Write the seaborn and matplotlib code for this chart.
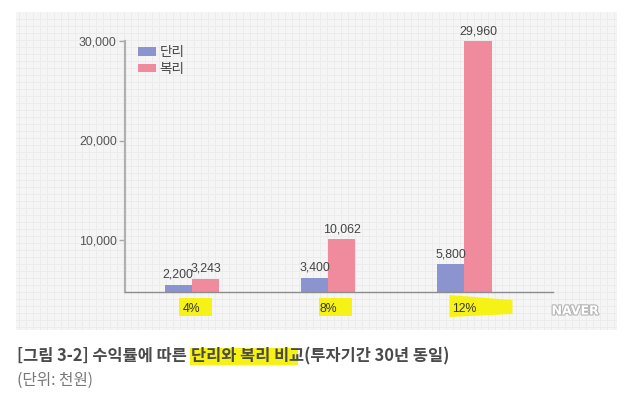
import numpy as np
import pandas as pd
import matplotlib
matplotlib.use("Agg")
import matplotlib.pyplot as plt
import seaborn as sns
from matplotlib.transforms import IdentityTransform
from matplotlib.patches import Rectangle, Polygon
import matplotlib.patheffects as pe

# ---- data ----
rates = ['4%', '8%', '12%']
types = ['단리', '복리']
simple_vals = [2200, 3400, 5800]
compound_vals = [3243, 10062, 29960]
yticks = [10000, 20000, 30000]
ytick_labels = ['10,000', '20,000', '30,000']
caption_a = '[그림 3-2] 수익률에 따른 '
caption_b = '단리와 복리 비'
caption_c = '교(투자기간 30년 동일)'
unit_text = '(단위: 천원)'

df = pd.DataFrame({
    'rate': rates * 2,
    'type': [types[0]] * 3 + [types[1]] * 3,
    'value': simple_vals + compound_vals,
})

W, H = 635, 393
BLUE = '#8b94cf'
PINK = '#ef8b9c'
YELLOW = '#f7f215'

sns.set_theme(style='white')
plt.rcParams['font.family'] = ['Liberation Sans', 'Noto Sans CJK KR', 'DejaVu Sans']

fig = plt.figure(figsize=(W / 100, H / 100), dpi=100)
fig.patch.set_facecolor('white')

# grid-paper background
ax_bg = fig.add_axes([16 / W, (H - 330) / H, 601 / W, 318 / H], zorder=0)
ax_bg.set_axis_off()
ax_bg.set_xlim(0, 601)
ax_bg.set_ylim(0, 318)
ax_bg.add_patch(Rectangle((0, 0), 601, 318, facecolor='#f5f5f5', edgecolor='none'))
for gx in np.arange(3, 601, 7):
    ax_bg.axvline(gx, color='#ebebeb', lw=0.6)
for gy in np.arange(3, 318, 7):
    ax_bg.axhline(gy, color='#ebebeb', lw=0.6)

# main axes
ax = fig.add_axes([125 / W, (H - 292) / H, 428 / W, 251 / H], zorder=2)
ax.set_facecolor('none')

sns.barplot(data=df, x='rate', y='value', hue='type', order=rates, hue_order=types,
            palette=[BLUE, PINK], width=0.4, gap=0, saturation=1, linewidth=0, ax=ax)

S1 = 52 / 9000.0
S2 = 199 / 20000.0


def fwd(v):
    v = np.asarray(v, dtype=float)
    return np.where(v < 10000, (v - 1000) * S1, 52 + (v - 10000) * S2)


def inv(d):
    d = np.asarray(d, dtype=float)
    return np.where(d < 52, d / S1 + 1000, 10000 + (d - 52) / S2)


ax.set_yscale('function', functions=(fwd, inv))
ax.set_ylim(1000, 30000)
ax.set_xlim(-0.49, 2.65)

ax.set_yticks(yticks)
ax.set_yticklabels(ytick_labels)
ax.minorticks_off()
ax.tick_params(axis='y', which='major', left=True, length=4, width=1, color='#a8a8a8',
               labelsize=8.9, labelcolor='#555555', pad=2)
ax.tick_params(axis='x', length=0, labelsize=8.8, labelcolor='#333333', pad=8)
ax.set_xlabel('')
ax.set_ylabel('')
for s in ['top', 'right']:
    ax.spines[s].set_visible(False)
ax.spines['left'].set_color('#b0b0b0')
ax.spines['left'].set_linewidth(1.6)
ax.spines['bottom'].set_color('#8c8c8c')
ax.spines['bottom'].set_linewidth(1.0)

for cont in ax.containers:
    ax.bar_label(cont, labels=[f'{v:,.0f}' for v in cont.datavalues], padding=3,
                 fontsize=8.9, color='#444444')

handles, labels = ax.get_legend_handles_labels()
ax.legend(handles, labels, loc='upper left', bbox_to_anchor=(138 / W, (H - 45) / H),
          bbox_transform=fig.transFigure, frameon=False,
          handlelength=1.35, handleheight=0.6, handletextpad=0.25,
          labelspacing=0.2, borderpad=0, borderaxespad=0,
          prop={'family': ['Noto Sans CJK KR'], 'size': 9.8})
for t in ax.get_legend().get_texts():
    t.set_color('#444444')

# yellow highlights under the category labels
idt = IdentityTransform()
for i in range(len(rates)):
    cx = ax.transData.transform((i, 1000))[0]
    if i < 2:
        off = 2 if i == 0 else 6
        fig.patches.append(Rectangle((cx - 15 + off, H - 316), 33, 18, facecolor=YELLOW,
                                     edgecolor='none', transform=idt, zorder=1))
    else:
        pts = [(cx - 15, H - 295), (cx + 48, H - 300), (cx + 48, H - 314), (cx - 15, H - 317)]
        fig.patches.append(Polygon(pts, closed=True, facecolor=YELLOW, edgecolor='none',
                                   transform=idt, zorder=1))

# NAVER watermark
fig.text(575, H - 311, 'NAVER', transform=idt, ha='center', va='center', fontsize=9,
         fontweight='bold', color='white', family=['DejaVu Sans'],
         path_effects=[pe.withStroke(linewidth=1.6, foreground='#b5b5b5')])

# caption
fig.canvas.draw()
r = fig.canvas.get_renderer()
cap_kw = dict(transform=idt, va='center', ha='left', fontsize=11.8, fontweight='bold',
              color='#4a4a4a', family=['Noto Sans CJK KR', 'DejaVu Sans'])
yc = H - 356
t1 = fig.text(17, yc, caption_a, **cap_kw)
x1 = t1.get_window_extent(renderer=r).x1
t2 = fig.text(x1, yc, caption_b, **cap_kw)
bb2 = t2.get_window_extent(renderer=r)
fig.patches.append(Rectangle((bb2.x0 - 1, H - 365), bb2.x1 - bb2.x0 + 10, 17, facecolor=YELLOW,
                             edgecolor='none', transform=idt, zorder=0))
t3 = fig.text(bb2.x1, yc, caption_c, **cap_kw)
fig.text(17, H - 380, unit_text, transform=idt, va='center', ha='left', fontsize=11.3,
         color='#777777', family=['Noto Sans CJK KR', 'DejaVu Sans'])

fig.savefig('out.png', dpi=100)
